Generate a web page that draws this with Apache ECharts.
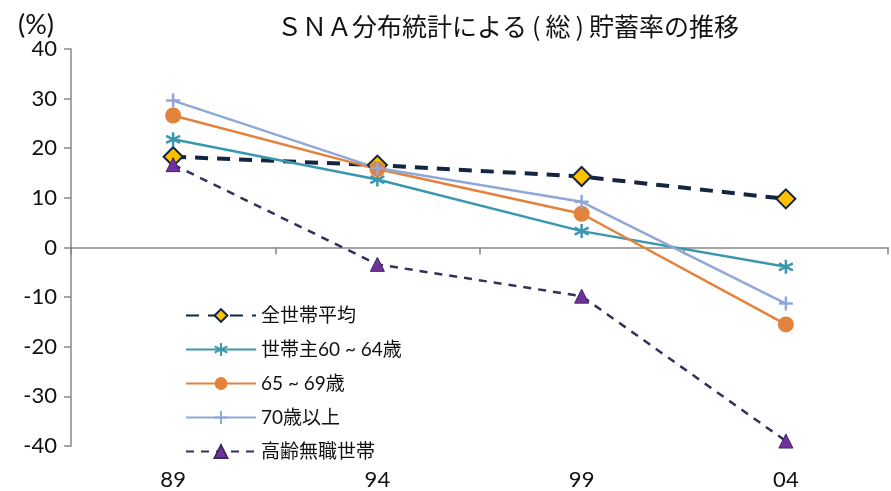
<!DOCTYPE html>
<html>
<head>
<meta charset="utf-8">
<script src="https://cdn.jsdelivr.net/npm/echarts@6/dist/echarts.min.js"></script>
<style>
  html, body { margin: 0; padding: 0; background: #fff; }
  #chart { width: 891px; height: 491px; }
</style>
</head>
<body>
<div id="chart"></div>
<script>
// Survey years (x categories)
const years = ['89', '94', '99', '04'];

// Gross saving rate (%) by household group
const allHouseholds = [18.3, 16.6, 14.3, 9.8];
const head60to64 = [21.8, 13.7, 3.3, -3.9];
const age65to69 = [26.6, 15.8, 6.8, -15.5];
const age70plus = [29.6, 16.0, 9.2, -11.3];
const elderlyJobless = [16.7, -3.4, -9.8, -39.0];

const seriesNames = ['全世帯平均', '世帯主60 ~ 64歳', '65 ~ 69歳', '70歳以上', '高齢無職世帯'];
const yTicks = { min: -40, max: 40, step: 10 };

const latin = "Lato, 'Noto Sans CJK JP', sans-serif";
const asterisk = 'path://M5,0L5,10M0.7,2.5L9.3,7.5M0.7,7.5L9.3,2.5';
const plus = 'path://M5,0L5,10M0,5L10,5';

const chart = echarts.init(document.getElementById('chart'));
chart.setOption({
  animation: false,
  backgroundColor: '#fff',
  title: [
    {
      text: 'ＳＮＡ分布統計による\u2009(\u2009総\u2009)\u2009貯蓄率の推移',
      left: 503, top: 9, textAlign: 'center',
      textStyle: { fontFamily: "'Noto Sans CJK JP'", fontSize: 25, fontWeight: 'normal', color: '#111' }
    },
    {
      text: '(%)',
      left: 13, top: 7,
      textStyle: { fontFamily: latin, fontSize: 27, fontWeight: 'normal', color: '#111' }
    }
  ],
  grid: { left: 71, right: 3, top: 49, bottom: 44, containLabel: false },
  legend: {
    orient: 'vertical',
    left: 185, top: 306,
    padding: 0,
    itemWidth: 70, itemHeight: 16, itemGap: 15,
    textStyle: { fontFamily: latin, fontSize: 19, color: '#111', lineHeight: 19 },
    data: seriesNames
  },
  xAxis: [
    {
      type: 'category', data: years, boundaryGap: true,
      axisLine: { onZero: true, lineStyle: { color: '#888', width: 1.5 } },
      axisTick: { show: true, length: 7, lineStyle: { color: '#888', width: 1.5 } },
      axisLabel: { show: false }
    },
    {
      type: 'category', data: years, boundaryGap: true, position: 'bottom',
      axisLine: { show: false, onZero: false }, axisTick: { show: false },
      axisLabel: { margin: 23, fontFamily: latin, fontSize: 22, color: '#111' }
    }
  ],
  yAxis: {
    type: 'value', min: yTicks.min, max: yTicks.max, interval: yTicks.step,
    splitLine: { show: false },
    axisLine: { show: true, lineStyle: { color: '#888', width: 1.5 } },
    axisTick: { show: true, length: 7, lineStyle: { color: '#888', width: 1.5 } },
    axisLabel: { margin: 14, fontFamily: latin, fontSize: 22, color: '#111' }
  },
  series: [
    {
      name: seriesNames[0], type: 'line', data: allHouseholds,
      symbol: 'diamond', symbolSize: 19,
      lineStyle: { color: '#13253f', width: 4, type: [13, 9] },
      itemStyle: { color: '#ffc000', borderColor: '#13253f', borderWidth: 2 }
    },
    {
      name: seriesNames[1], type: 'line', data: head60to64,
      symbol: asterisk, symbolSize: 14,
      lineStyle: { color: '#3a98ae', width: 2.5 },
      itemStyle: { color: '#3a98ae', borderColor: '#3a98ae', borderWidth: 2.5 }
    },
    {
      name: seriesNames[2], type: 'line', data: age65to69,
      symbol: 'circle', symbolSize: 16,
      lineStyle: { color: '#e2823b', width: 2.5 },
      itemStyle: { color: '#e2823b', borderColor: '#e2823b', borderWidth: 0 }
    },
    {
      name: seriesNames[3], type: 'line', data: age70plus,
      symbol: plus, symbolSize: 14,
      lineStyle: { color: '#90a8d6', width: 2.5 },
      itemStyle: { color: '#90a8d6', borderColor: '#90a8d6', borderWidth: 2.5 }
    },
    {
      name: seriesNames[4], type: 'line', data: elderlyJobless,
      symbol: 'triangle', symbolSize: 14,
      lineStyle: { color: '#3b2d5a', width: 2.5, type: [8, 7] },
      itemStyle: { color: '#7030a0', borderColor: '#3b2d5a', borderWidth: 1 }
    }
  ]
});
</script>
</body>
</html>
